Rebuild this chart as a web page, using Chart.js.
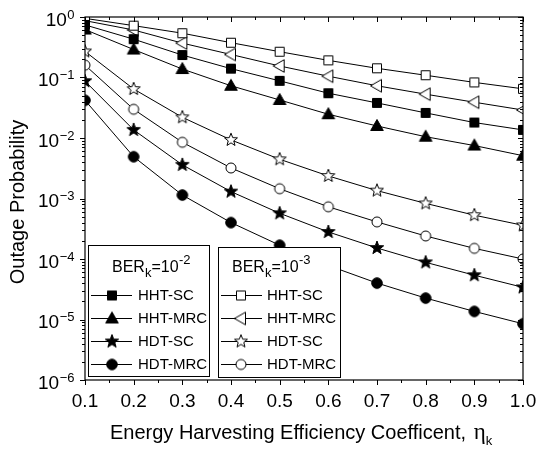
<!DOCTYPE html>
<html><head><meta charset="utf-8">
<script src="https://cdn.jsdelivr.net/npm/chart.js@4/dist/chart.umd.min.js"></script>
<style>html,body{margin:0;padding:0;background:#fff}canvas{display:block}</style>
</head><body>
<canvas id="c" width="540" height="450"></canvas>
<script>
// ---- data ----
const eta = [0.1, 0.2, 0.3, 0.4, 0.5, 0.6, 0.7, 0.8, 0.9, 1.0];
// BER_k = 10^-2 (filled markers)
const hhtSC_2  = [0.74, 0.43, 0.235, 0.14, 0.088, 0.055, 0.038, 0.026, 0.018, 0.0136];
const hhtMRC_2 = [0.62, 0.29, 0.138, 0.073, 0.0425, 0.0247, 0.0158, 0.0105, 0.0075, 0.0051];
const hdtSC_2  = [0.087, 0.0136, 0.0036, 0.0013, 0.00057, 0.00028, 0.000152, 0.000088, 0.000054, 0.000034];
const hdtMRC_2 = [0.042, 0.0049, 0.00114, 0.0004, 0.000169, 0.000078, 0.00004, 0.0000226, 0.0000136, 0.0000085];
// BER_k = 10^-3 (open markers)
const hhtSC_3  = [0.95, 0.72, 0.54, 0.376, 0.267, 0.192, 0.142, 0.109, 0.083, 0.065];
const hhtMRC_3 = [0.87, 0.61, 0.37, 0.24, 0.155, 0.105, 0.073, 0.053, 0.039, 0.029];
const hdtSC_3  = [0.27, 0.0645, 0.022, 0.0093, 0.00445, 0.00236, 0.00135, 0.00083, 0.00053, 0.00036];
const hdtMRC_3 = [0.16, 0.0298, 0.0085, 0.0032, 0.00145, 0.00073, 0.00041, 0.00024, 0.00015, 0.0001];

const seriesNames = ['HHT-SC', 'HHT-MRC', 'HDT-SC', 'HDT-MRC'];
const berExps = ['-2', '-3'];
const xTicks = [0.1, 0.2, 0.3, 0.4, 0.5, 0.6, 0.7, 0.8, 0.9, 1.0];
const xTickLabels = ['0.1', '0.2', '0.3', '0.4', '0.5', '0.6', '0.7', '0.8', '0.9', '1.0'];
const yTickExps = [0, -1, -2, -3, -4, -5, -6];
const xTitle = 'Energy Harvesting Efficiency Coefficent, ';
const yTitle = 'Outage Probability';

// ---- marker images ----
function mk(draw) {
  const c = document.createElement('canvas');
  c.width = 18; c.height = 18;
  const g = c.getContext('2d');
  g.translate(9, 9);
  draw(g);
  return c;
}
function starPath(g, R, r) {
  g.beginPath();
  for (let i = 0; i < 10; i++) {
    const a = -Math.PI / 2 + i * Math.PI / 5;
    const rad = i % 2 === 0 ? R : r;
    const px = rad * Math.cos(a), py = rad * Math.sin(a);
    i === 0 ? g.moveTo(px, py) : g.lineTo(px, py);
  }
  g.closePath();
}
function finish(g, filled) {
  g.fillStyle = filled ? '#000' : '#fff';
  g.fill();
  g.lineWidth = 1;
  g.strokeStyle = '#000';
  g.stroke();
}
const M = {
  sqF: mk(g => { g.beginPath(); g.rect(-4.5, -4.5, 9, 9); finish(g, true); }),
  sqO: mk(g => { g.beginPath(); g.rect(-4.5, -4.5, 9, 9); finish(g, false); }),
  triF: mk(g => { g.beginPath(); g.moveTo(0, -6.5); g.lineTo(6.3, 4.5); g.lineTo(-6.3, 4.5); g.closePath(); finish(g, true); }),
  triO: mk(g => { g.beginPath(); g.moveTo(-6.5, 0); g.lineTo(4.5, -6.3); g.lineTo(4.5, 6.3); g.closePath(); finish(g, false); }),
  starF: mk(g => { starPath(g, 7, 2.9); finish(g, true); }),
  starO: mk(g => { starPath(g, 6.8, 2.9); finish(g, false); }),
  cirF: mk(g => { g.beginPath(); g.arc(0, 0, 5.3, 0, Math.PI * 2); finish(g, true); }),
  cirO: mk(g => { g.beginPath(); g.arc(0, 0, 5, 0, Math.PI * 2); finish(g, false); })
};

const groups = [
  { exp: berExps[0], data: [hhtSC_2, hhtMRC_2, hdtSC_2, hdtMRC_2], marks: ['sqF', 'triF', 'starF', 'cirF'] },
  { exp: berExps[1], data: [hhtSC_3, hhtMRC_3, hdtSC_3, hdtMRC_3], marks: ['sqO', 'triO', 'starO', 'cirO'] }
];

const datasets = [];
groups.forEach(gr => {
  gr.data.forEach((arr, i) => {
    datasets.push({
      label: seriesNames[i] + ' (BER 10^' + gr.exp + ')',
      data: arr.map((v, j) => ({ x: eta[j], y: v })),
      borderColor: '#000',
      borderWidth: 1,
      pointStyle: M[gr.marks[i]],
      pointRadius: 6,
      tension: 0,
      fill: false
    });
  });
});

const FONT = '"Liberation Sans", Arial, sans-serif';

function supText(ctx, base, sup, x, y, size, supSize, align) {
  ctx.font = size + 'px ' + FONT;
  const w1 = ctx.measureText(base).width;
  ctx.font = supSize + 'px ' + FONT;
  const w2 = ctx.measureText(sup).width;
  let x0 = align === 'right' ? x - w1 - w2 : x;
  ctx.textAlign = 'left';
  ctx.textBaseline = 'alphabetic';
  ctx.font = size + 'px ' + FONT;
  ctx.fillText(base, x0, y);
  ctx.font = supSize + 'px ' + FONT;
  ctx.fillText(sup, x0 + w1 + 0.5, y - 7);
}

const legendBoxes = [
  { x: 88, y: 245, w: 121, h: 131, lineX0: 91, lineX1: 132, markX: 112, textX: 138, titleX: 112 },
  { x: 218, y: 247, w: 122, h: 130, lineX0: 221, lineX1: 262, markX: 241, textX: 267, titleX: 232 }
];
const rowYs = [295, 318, 341, 364];

const decor = {
  id: 'decor',
  beforeDraw(chart) {
    const ctx = chart.ctx;
    ctx.save(); ctx.fillStyle = '#fff'; ctx.fillRect(0, 0, chart.width, chart.height); ctx.restore();
  },
  afterDatasetsDraw(chart) {
    const ctx = chart.ctx;
    const ca = chart.chartArea;
    const xs = chart.scales.x, ys = chart.scales.y;
    ctx.save();
    ctx.fillStyle = '#000';
    ctx.strokeStyle = '#000';

    // legends
    legendBoxes.forEach((b, gi) => {
      ctx.fillStyle = '#fff';
      ctx.fillRect(b.x, b.y, b.w, b.h);
      ctx.lineWidth = 1;
      ctx.strokeStyle = '#000';
      ctx.strokeRect(b.x + 0.5, b.y + 0.5, b.w, b.h);
      ctx.fillStyle = '#000';
      // title BER_k=10^exp
      ctx.font = '16px ' + FONT;
      ctx.textAlign = 'left'; ctx.textBaseline = 'alphabetic';
      let tx = b.titleX;
      const ty = 272;
      ctx.fillText('BER', tx, ty); tx += ctx.measureText('BER').width;
      ctx.font = '13px ' + FONT;
      ctx.fillText('k', tx, ty + 5); tx += ctx.measureText('k').width;
      ctx.font = '16px ' + FONT;
      ctx.fillText('=10', tx, ty); tx += ctx.measureText('=10').width;
      ctx.font = '13px ' + FONT;
      ctx.fillText(groups[gi].exp, tx + 0.5, ty - 8);
      // entries
      rowYs.forEach((ry, i) => {
        ctx.strokeStyle = '#000';
        ctx.lineWidth = 1;
        ctx.beginPath();
        ctx.moveTo(b.lineX0, ry + 0.5); ctx.lineTo(b.lineX1, ry + 0.5); ctx.stroke();
        const img = M[groups[gi].marks[i]];
        ctx.drawImage(img, b.markX - 9, ry - 8.5);
        ctx.fillStyle = '#000';
        ctx.font = '15px ' + FONT;
        ctx.textBaseline = 'middle';
        ctx.fillText(seriesNames[i], b.textX, ry + 1);
        ctx.textBaseline = 'alphabetic';
      });
    });

    // frame
    ctx.strokeStyle = '#000';
    ctx.lineWidth = 1.2;
    ctx.strokeRect(ca.left, ca.top, ca.right - ca.left, ca.bottom - ca.top);

    // x ticks
    ctx.lineWidth = 1;
    ctx.beginPath();
    xTicks.forEach((t, i) => {
      const px = Math.round(xs.getPixelForValue(t)) + 0.5;
      ctx.moveTo(px, ca.bottom); ctx.lineTo(px, ca.bottom + 5);
      ctx.moveTo(px, ca.top); ctx.lineTo(px, ca.top + 5);
      if (i < xTicks.length - 1) {
        const mx = Math.round(xs.getPixelForValue((t + xTicks[i + 1]) / 2)) + 0.5;
        ctx.moveTo(mx, ca.bottom); ctx.lineTo(mx, ca.bottom + 3);
        ctx.moveTo(mx, ca.top); ctx.lineTo(mx, ca.top + 3);
      }
    });
    // y ticks
    yTickExps.forEach(e => {
      const py = Math.round(ys.getPixelForValue(Math.pow(10, e))) + 0.5;
      ctx.moveTo(ca.left, py); ctx.lineTo(ca.left - 5, py);
      ctx.moveTo(ca.right, py); ctx.lineTo(ca.right - 5, py);
      if (e > -6) {
        for (let m = 2; m <= 9; m++) {
          const my = Math.round(ys.getPixelForValue(m * Math.pow(10, e - 1))) + 0.5;
          ctx.moveTo(ca.left, my); ctx.lineTo(ca.left - 3, my);
          ctx.moveTo(ca.right, my); ctx.lineTo(ca.right - 3, my);
        }
      }
    });
    ctx.stroke();

    // x tick labels
    ctx.fillStyle = '#000';
    ctx.font = '19px ' + FONT;
    ctx.textAlign = 'center'; ctx.textBaseline = 'alphabetic';
    xTicks.forEach((t, i) => {
      ctx.fillText(xTickLabels[i], xs.getPixelForValue(t), 407);
    });
    // y tick labels
    yTickExps.forEach(e => {
      const py = ys.getPixelForValue(Math.pow(10, e));
      supText(ctx, '10', e === 0 ? '0' : '\u2212' + (-e), 74, py + 8.5, 19, 13, 'right');
    });

    // x title
    ctx.font = '20px ' + FONT;
    ctx.textAlign = 'left';
    const tw = ctx.measureText(xTitle).width;
    let tx = 110;
    ctx.fillText(xTitle, tx, 439);
    tx += tw + 2;
    ctx.font = '23px "Liberation Serif", serif';
    ctx.fillText('\u03B7', tx, 439);
    tx += ctx.measureText('\u03B7').width;
    ctx.font = '13px ' + FONT;
    ctx.fillText('k', tx, 445);

    // y title
    ctx.save();
    ctx.translate(24, 202);
    ctx.rotate(-Math.PI / 2);
    ctx.font = '20px ' + FONT;
    ctx.textAlign = 'center';
    ctx.fillText(yTitle, 0, 0);
    ctx.restore();

    ctx.restore();
  }
};

new Chart(document.getElementById('c'), {
  type: 'line',
  data: { datasets },
  options: {
    responsive: false,
    animation: false,
    devicePixelRatio: 1,
    layout: { padding: { top: 17, right: 17, left: 0, bottom: 0 } },
    plugins: { legend: { display: false }, tooltip: { enabled: false } },
    scales: {
      x: {
        type: 'linear', min: 0.1, max: 1.0,
        ticks: { display: false }, grid: { display: false }, border: { display: false },
        afterFit(s) { s.height = 70; }
      },
      y: {
        type: 'logarithmic', min: 1e-6, max: 1,
        ticks: { display: false }, grid: { display: false }, border: { display: false },
        afterFit(s) { s.width = 85; }
      }
    }
  },
  plugins: [decor]
});
</script>
</body></html>
